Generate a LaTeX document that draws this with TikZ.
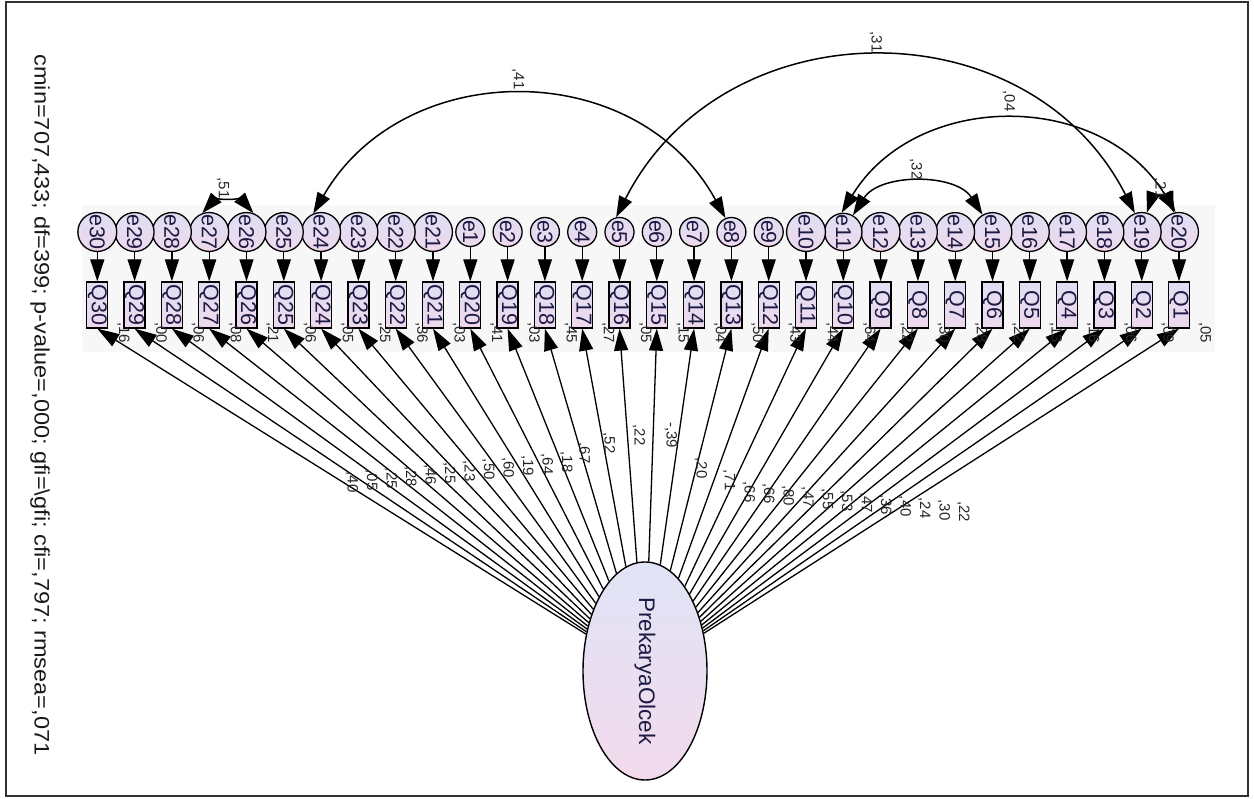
\documentclass[tikz,border=0pt]{standalone}
\usepackage{graphicx}
\usepackage{fontspec}
\setmainfont{Liberation Sans}
\usetikzlibrary{arrows.meta,shapes.geometric}
\definecolor{ink}{RGB}{28,26,66}
\definecolor{boxtop}{RGB}{224,222,242}
\definecolor{boxbot}{RGB}{238,216,236}
\definecolor{lattop}{RGB}{224,228,246}
\definecolor{latbot}{RGB}{242,218,236}
\definecolor{framec}{RGB}{50,50,50}
\begin{document}
\begin{tikzpicture}[x=1pt,y=-1pt,
  obs/.style={draw=black, line width=1.3pt, rectangle, minimum width=21pt, minimum height=46pt, inner sep=0pt, top color=boxtop, bottom color=boxbot, text=ink, font=\fontsize{21.5}{21.5}\selectfont},
  err/.style={draw=black, line width=1.3pt, circle, minimum size=29pt, inner sep=0pt, top color=boxtop, bottom color=boxbot, text=ink, font=\fontsize{21.5}{21.5}\selectfont},
  lat/.style={draw=black, line width=1.4pt, ellipse, minimum width=124pt, minimum height=218pt, inner sep=0pt, top color=lattop, bottom color=latbot, text=ink, font=\fontsize{22.5}{22.5}\selectfont},
  arr/.style={line width=1.3pt, -{Triangle[length=22pt,width=14pt]}},
  cov/.style={line width=1.5pt, {Triangle[length=21pt,width=14pt]}-{Triangle[length=21pt,width=14pt]}},
  val/.style={font=\fontsize{15}{15}\selectfont, text=black!85, inner sep=0pt},
  fitstat/.style={font=\fontsize{21}{21}\selectfont, text=black!90, inner sep=0pt}
]
\useasboundingbox (0,0) rectangle (1254,799);
\draw[line width=1.5pt, framec] (6,2) rectangle (1248,796);
\fill[black!3] (82,205) rectangle (1215,352);

% fit statistics
\node[fitstat] (fit) at (40,405) {\rotatebox{-90}{\scalebox{1.12}[1]{cmin=707,433; df=399; p-value=,000; gfi=\textbackslash gfi; cfi=,797; rmsea=,071}}};

% latent variable
\node[lat] (lat) at (645,671) {\rotatebox{-90}{PrekaryaOlcek}};

% observed variables and errors
\foreach \i in {1,...,30}{
  \pgfmathsetmacro\xx{97.3+(30-\i)*37.3}
  \pgfmathtruncatemacro\en{\i>20 ? \i : 21-\i}
  \node[obs] (q\i) at (\xx,305) {\rotatebox{-90}{Q\i}};
  \node[err] (e\en) at (\xx,232) {\rotatebox{-90}{e\en}};
  \draw[arr] (e\en) -- (q\i);
  \draw[arr] (lat) -- (q\i.south);
}

% squared multiple correlations
\foreach \i/\rs in {30/16,29/00,28/06,27/08,26/21,25/06,24/05,23/25,22/36,21/03,20/41,19/03,18/45,17/27,16/05,15/15,14/04,13/50,12/43,11/44,10/64,9/22,8/30,7/28,6/22,5/13,4/16,3/06,2/09,1/05}{
  \pgfmathsetmacro\rx{97.3+(30-\i)*37.3+26}
  \node[val, anchor=north] (r\i) at (\rx,322) {\rotatebox{-90}{,\rs}};
}

% loadings
\foreach \i/\ld/\lx/\ly in {30/40/352/482,29/05/371.5/480.2,28/25/391/478.4,27/28/410.5/476.6,26/46/430/474.8,25/25/449.5/473,24/23/469/471.2,23/50/488.5/469.4,22/60/508/467.6,21/19/527.5/465.8,20/64/547/464,19/18/566.5/462.2,18/67/584/453,17/52/609/443,16/22/639/435,14/20/701/468,13/71/729/480,12/66/749/492,11/66/768.5/493.8,10/80/788/495.6,9/47/807.5/497.4,8/55/827/499.2,7/53/846.5/501,6/47/866/502.8,5/36/885.5/504.6,4/40/905/506.4,3/24/924.5/508.2,2/30/944/510,1/22/963.5/511.8}{
  \node[val] (l\i) at (\lx,\ly) {\rotatebox{-90}{,\ld}};
}
\node[val] (l15) at (671,435) {\rotatebox{-90}{-,39}};

% covariances
\draw[cov] (e27.110) .. controls (214,200) and (242,200) .. (e26.70);
\node[val] (c1) at (223,188) {\rotatebox{-90}{,51}};
\draw[cov] (e24.113) .. controls (404.2,56.1) and (636.9,56.1) .. (e8.113);
\node[val] (c2) at (518,79) {\rotatebox{-90}{,41}};
\draw[cov] (e5.103) .. controls (724,5) and (1029,5) .. (e19.110);
\node[val] (c3) at (876,42) {\rotatebox{-90}{,31}};
\draw[cov] (e11.95) .. controls (916.6,90) and (1101.4,90) .. (e20.100);
\node[val] (c4) at (1009,101) {\rotatebox{-90}{,04}};
\draw[cov] (e11.60) .. controls (880,173) and (955.7,173) .. (e15.120);
\node[val] (c5) at (916,169) {\rotatebox{-90}{,32}};
\draw[cov] (e19.75) .. controls (1152,197) and (1168,197) .. (e20.105);
\node[val] (c6) at (1160,188) {\rotatebox{-90}{,21}};
\end{tikzpicture}
\end{document}
